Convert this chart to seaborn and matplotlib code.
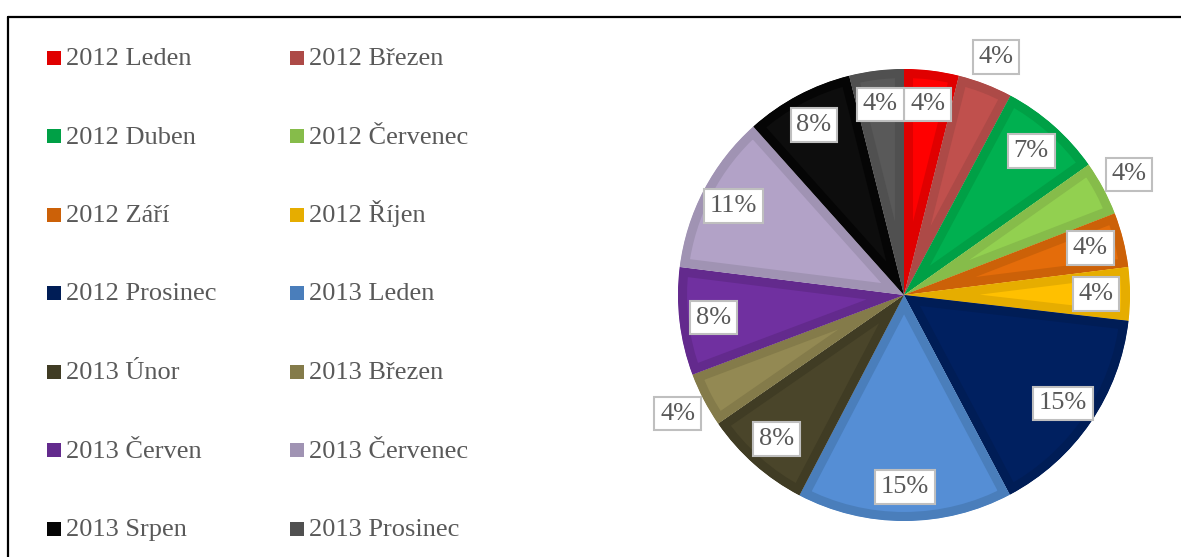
import numpy as np
import pandas as pd
import matplotlib
matplotlib.use("Agg")
import matplotlib.pyplot as plt
from matplotlib.patches import Rectangle
from matplotlib.lines import Line2D
import seaborn as sns

# data (share of total, %)
months = ['2012 Leden', '2012 Březen', '2012 Duben', '2012 Červenec',
          '2012 Září', '2012 Říjen', '2012 Prosinec', '2013 Leden',
          '2013 Únor', '2013 Březen', '2013 Červen', '2013 Červenec',
          '2013 Srpen', '2013 Prosinec']
shares = [3.9, 3.9, 7.4, 3.9, 3.9, 3.8, 15.4, 15.4, 7.7, 3.9, 7.7, 11.4, 7.7, 3.9]

fill_colors = ['#FF0000', '#C0504D', '#00B050', '#92D050', '#E46C0A', '#FFC000',
               '#002060', '#558ED5', '#4A452A', '#938953', '#7030A0', '#B2A2C7',
               '#0D0D0D', '#595959']
edge_colors = ['#E00000', '#AD4A47', '#00A046', '#86BC4A', '#CC6108', '#E6AD00',
               '#001D56', '#4A7EBB', '#403C24', '#847B4A', '#632A8D', '#A093B3',
               '#050505', '#505050']
outside = [1, 3, 9]  # labels placed outside the pie

sns.set_theme(style="white")
plt.rcParams['font.family'] = ['Liberation Serif', 'DejaVu Serif']

df = pd.DataFrame({'month': months, 'share': shares})
text_col = '#595959'
fs = 19
W, H = 1181, 557

fig = plt.figure(figsize=(W / 100, H / 100), dpi=100)
ax = fig.add_axes([642 / W, 0, 524 / W, 524 / H])

wedges, _ = ax.pie(df['share'], colors=fill_colors, startangle=90, counterclock=False,
                   radius=1.0)
for w, ec in zip(wedges, edge_colors):
    w.set_edgecolor(ec)
    w.set_linewidth(13)
    w.set_joinstyle('round')
    w.set_clip_on(True)
    w.set_clip_path(w)

lim = 262 / 226
ax.set_xlim(-lim, lim)
ax.set_ylim(-lim, lim)
ax.set_aspect('equal')
ax.axis('off')

total = df['share'].sum()
for i, (w, v) in enumerate(zip(wedges, df['share'])):
    ang = np.deg2rad((w.theta1 + w.theta2) / 2)
    r = 1.13 if i in outside else 0.85
    ax.text(r * np.cos(ang), r * np.sin(ang), f"{v / total * 100:.0f}%",
            ha='center', va='center', fontsize=fs, color=text_col, clip_on=False,
            bbox=dict(boxstyle='square,pad=0.22', fc='white', ec='#BFBFBF', lw=1.5))

# legend: two columns, filled row by row, rows on a fixed grid
col_x = [47, 290]
row_y0, row_step = 57.5, 78.5
box = 14
for i, (name, c) in enumerate(zip(df['month'], edge_colors)):
    x = col_x[i % 2]
    y = row_y0 + (i // 2) * row_step
    fig.add_artist(Rectangle((x / W, 1 - (y + box / 2) / H), box / W, box / H,
                             transform=fig.transFigure, fc=c, ec='none'))
    fig.text((x + box + 5) / W, 1 - (y + 7.5) / H, name, fontsize=fs,
             color=text_col, ha='left', va='baseline')

# chart frame (top and left edges visible)
fig.add_artist(Line2D([7.5 / W, 1], [1 - 16.5 / H] * 2, color='black', lw=1.6))
fig.add_artist(Line2D([7.5 / W] * 2, [0, 1 - 16.5 / H], color='black', lw=1.6))

fig.savefig('out.png', dpi=100)
